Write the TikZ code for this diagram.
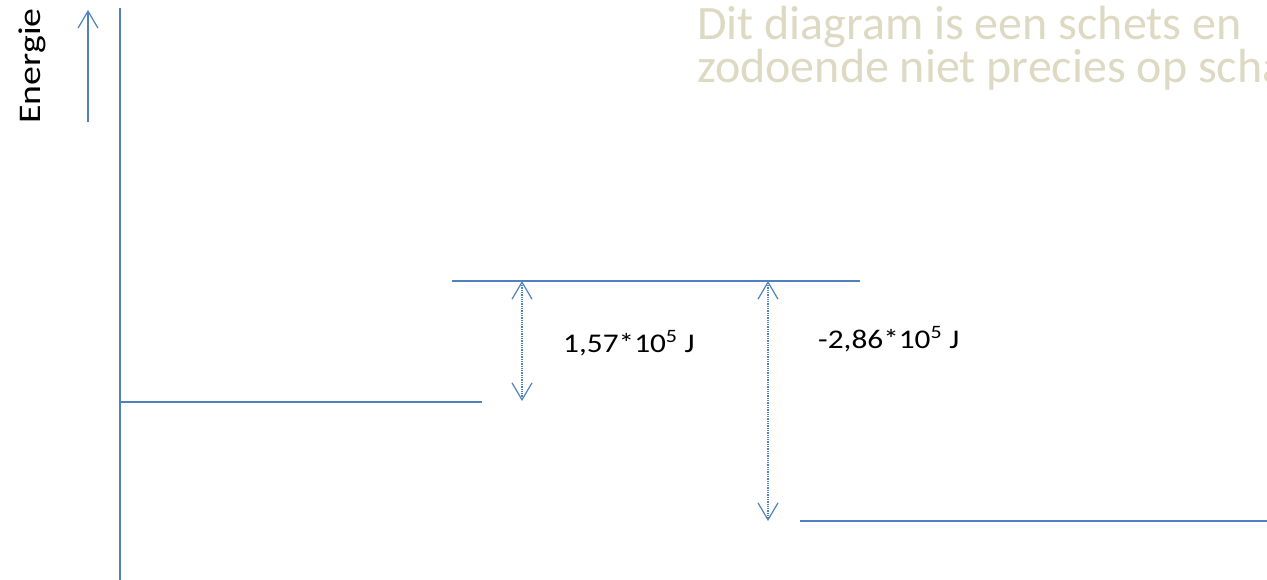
\documentclass[tikz,border=0pt]{standalone}
\usepackage{fontspec}
\setmainfont{Carlito}
\newfontfamily\widefont[FakeStretch=1.16]{Carlito}
\newfontfamily\widerfont[FakeStretch=1.2]{Carlito}
\usetikzlibrary{arrows.meta}
\definecolor{lvl}{RGB}{79,129,189}
\definecolor{note}{RGB}{221,217,195}
\tikzset{
  vhead/.tip={Straight Barb[length=17pt,width=20pt,line width=1.2pt]},
  lvlline/.style={draw=lvl, line width=1.6pt},
  gapline/.style={draw=lvl, line width=1.3pt, densely dotted, {vhead}-{vhead}},
  lbl/.style={font=\widefont\fontsize{27}{30}\selectfont, anchor=base west, inner sep=0pt},
  notetext/.style={font=\fontsize{48}{43}\selectfont, text=note, anchor=base west, inner sep=0pt},
}
\begin{document}
\begin{tikzpicture}[x=1pt,y=-1pt]
\clip (0,0) rectangle (1267,580);
\useasboundingbox (0,0) rectangle (1267,580);
% axis
\coordinate (axT) at (120,8);
\coordinate (axB) at (120,580);
\draw[lvlline] (axT) -- (axB);
% energy arrow
\coordinate (enB) at (88,122);
\coordinate (enT) at (88,10);
\draw[lvlline, -{vhead}] (enB) -- (enT);
\node[rotate=90, font=\widerfont\fontsize{31.5}{34}\selectfont, anchor=base, inner sep=0pt] (energie) at (40,66) {Energie};
% levels
\coordinate (l1a) at (120,402); \coordinate (l1b) at (482,402);
\coordinate (l2a) at (452,281); \coordinate (l2b) at (860,281);
\coordinate (l3a) at (800,521); \coordinate (l3b) at (1267,521);
\draw[lvlline] (l1a) -- (l1b);
\draw[lvlline] (l2a) -- (l2b);
\draw[lvlline] (l3a) -- (l3b);
% gaps
\coordinate (g1t) at (522,281); \coordinate (g1b) at (522,401);
\coordinate (g2t) at (768,281); \coordinate (g2b) at (768,521);
\draw[gapline] (g1t) -- (g1b);
\draw[gapline] (g2t) -- (g2b);
\node[lbl] (dh1) at (563,352) {1,57*10\textsuperscript{5} J};
\node[lbl] (dh2) at (818,348) {-2,86*10\textsuperscript{5} J};
% note
\node[notetext] (note1) at (697,40) {Dit diagram is een schets en};
\node[notetext] (note2) at (697,83) {zodoende niet precies op schaal};
\end{tikzpicture}
\end{document}
